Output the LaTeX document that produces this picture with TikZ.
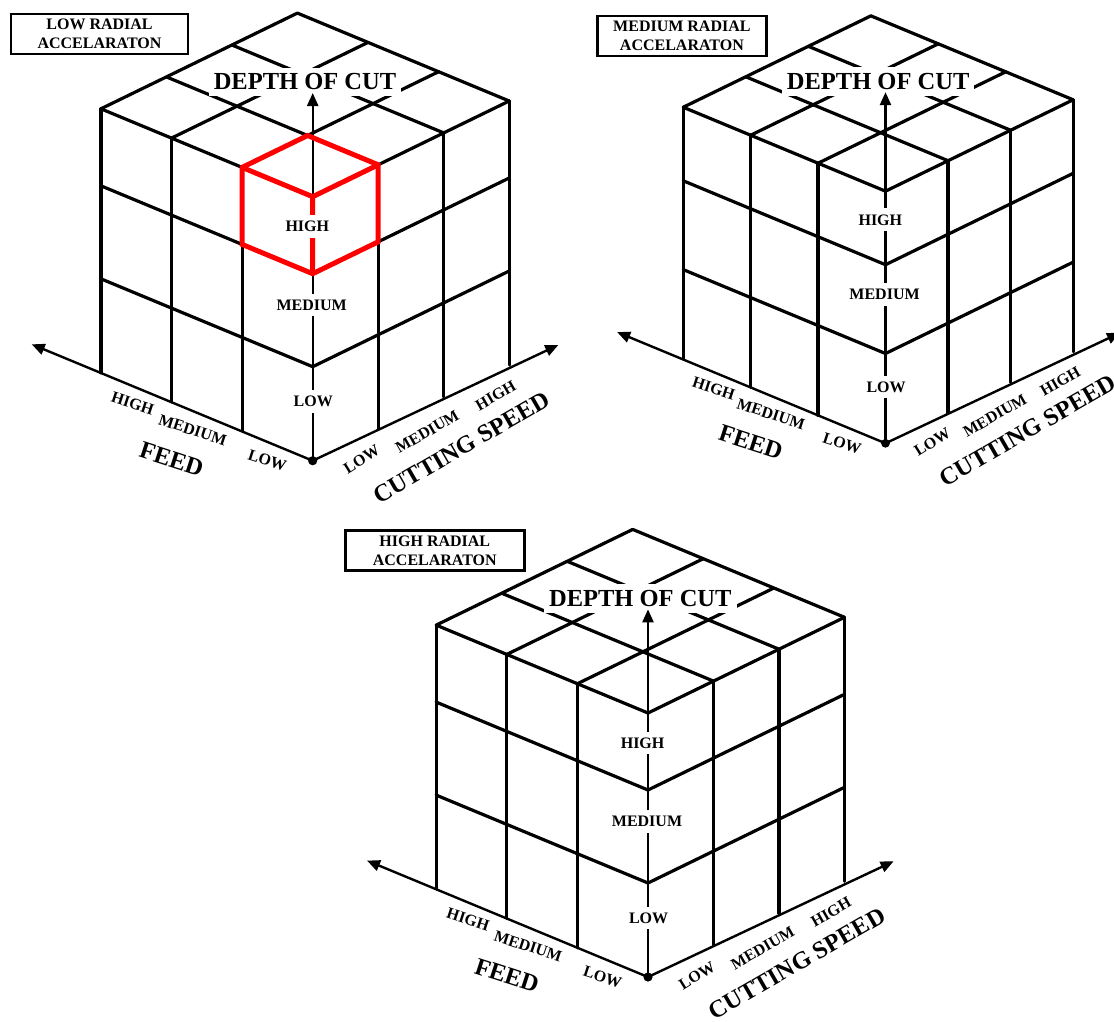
\documentclass[tikz,border=0pt]{standalone}
\usepackage{fontspec}
\setmainfont{Liberation Serif}
\usetikzlibrary{arrows.meta}
\def\Fx{-70.6}\def\Fy{-29.3}\def\Sx{65.5}\def\Sy{-31.9}
\def\hA{94}\def\hB{187}\def\hC{264}
\newcommand\cubeFig[7]{%
 \begin{scope}[shift={(#2,#3)},scale=#4]
  \coordinate (#1o) at (0,0);
  \foreach \f in {1,2,3}{\draw[grid] (\f*\Fx,\f*\Fy) -- (\f*\Fx,\f*\Fy-\hC);}
  \foreach \h in {\hA,\hB,\hC}{\draw[grid] (0,-\h) -- (3*\Fx,3*\Fy-\h);}
  \foreach \s in {1,2,3}{\draw[grid] (\s*\Sx,\s*\Sy) -- (\s*\Sx,\s*\Sy-\hC);}
  \foreach \h in {\hA,\hB,\hC}{\draw[grid] (0,-\h) -- (3*\Sx,3*\Sy-\h);}
  \foreach \f in {1,2,3}{\draw[grid] (\f*\Fx,\f*\Fy-\hC) -- (\f*\Fx+3*\Sx,\f*\Fy+3*\Sy-\hC);}
  \foreach \s in {1,2,3}{\draw[grid] (\s*\Sx,\s*\Sy-\hC) -- (3*\Fx+\s*\Sx,3*\Fy+\s*\Sy-\hC);}
  \node[big,fill=white,inner xsep=5pt,inner ysep=6pt] (#1doc) at (-7.7,-378.7) {DEPTH OF CUT};
  \coordinate (#1fa) at (-281,-116.4);
  \coordinate (#1sa) at (245.6,-115.7);
  \coordinate (#1da) at (0,-367.7);
  \draw[axis] (#1o) -- (#1fa);
  \draw[axis] (#1o) -- (#1sa);
  \draw[axis] (#1o) -- (#1da);
  \fill (#1o) circle (4.6);
  #7
  \node[lab,fill=white] (#1dh) at (-5.4,-234) {HIGH};
  \node[lab,fill=white] (#1dm) at (-1,-155.7) {MEDIUM};
  \node[lab,fill=white] (#1dl) at (0.6,-59) {LOW};
  \node[lab,rotate=-18] (#1fh) at (-180,-57.4) {HIGH};
  \node[lab,rotate=-18] (#1fm) at (-120,-30.7) {MEDIUM};
  \node[lab,rotate=-18] (#1fl) at (-45.4,0) {LOW};
  \node[big,rotate=-18] (#1fe) at (-141,-1.4) {FEED};
  \node[lab,rotate=32] (#1sl) at (49,-1.4) {LOW};
  \node[lab,rotate=30] (#1sm) at (114.6,-29) {MEDIUM};
  \node[lab,rotate=30] (#1sh) at (183,-65) {HIGH};
  \node[big,rotate=30] (#1cs) at (149,-13.4) {CUTTING SPEED};
  \node[title,minimum width=#6pt] (#1t) at (-213.2,-426.7) {#5};
 \end{scope}}
\begin{document}
\begin{tikzpicture}[x=1pt,y=-1pt,
  grid/.style={line width=3.2pt,line cap=round},
  axis/.style={line width=2.4pt,-{Triangle[length=13pt,width=11pt]}},
  redc/.style={line width=5pt,red,line join=miter},
  lab/.style={font=\fontsize{16}{16}\selectfont\bfseries,inner xsep=2pt,inner ysep=6pt},
  big/.style={font=\fontsize{24.5}{24.5}\selectfont\bfseries,inner sep=1pt},
  title/.style={draw,line width=2.4pt,font=\fontsize{16}{19}\selectfont\bfseries,align=center,minimum height=40pt,inner sep=0pt}]
\useasboundingbox (0,0) rectangle (1114,1021);
\cubeFig{a}{312.7}{460.7}{1}{LOW RADIAL\\ACCELARATON}{177}{%
  \coordinate (r1) at (\Fx,\Fy-\hB);
  \coordinate (r2) at (\Fx,\Fy-\hC);
  \coordinate (r3) at (\Fx+\Sx,\Fy+\Sy-\hC);
  \coordinate (r4) at (\Sx,\Sy-\hC);
  \coordinate (r5) at (\Sx,\Sy-\hB);
  \coordinate (r6) at (0,-\hB);
  \coordinate (r0) at (0,-\hC);
  \draw[redc] (r1) -- (r2) -- (r3) -- (r4) -- (r5) -- (r6) -- cycle;
  \draw[redc] (r2) -- (r0) -- (r4) (r0) -- (r6);
}
\cubeFig{b}{885.5}{443.3}{0.955}{MEDIUM RADIAL\\ACCELARATON}{169}{}
\cubeFig{c}{648}{977}{1}{HIGH RADIAL\\ACCELARATON}{179}{}
\end{tikzpicture}
\end{document}
